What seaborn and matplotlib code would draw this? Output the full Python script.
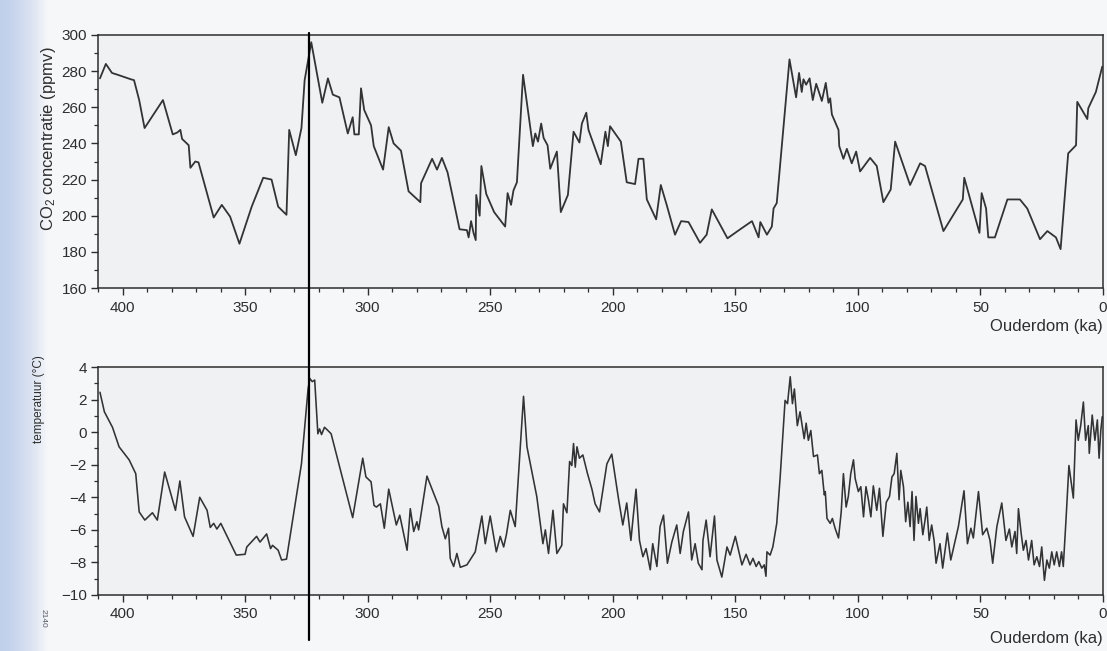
import numpy as np
import pandas as pd
import matplotlib
matplotlib.use("Agg")
import matplotlib.pyplot as plt
import matplotlib.transforms as mtransforms
from matplotlib.lines import Line2D
from matplotlib.ticker import MultipleLocator
import seaborn as sns

# --- Vostok ice core: CO2 concentration (ppmv) versus age (ka) ---
co2_age = [409.2, 406.8, 404.3, 402.0, 396.6, 395.3, 393.2, 391.0, 383.5, 379.5,
           377.7, 376.4, 375.7, 373.0, 372.3, 370.3, 369.0, 362.8, 359.5, 356.1,
           352.3, 347.3, 342.6, 339.2, 336.5, 333.1, 332.0, 329.3, 327.0, 325.7,
           323.0, 318.5, 316.2, 314.2, 311.5, 308.1, 306.1, 305.4, 303.6, 302.7,
           301.4, 298.6, 297.5, 293.7, 291.4, 289.4, 286.4, 283.3, 278.5, 278.2,
           273.7, 271.7, 269.7, 267.4, 262.5, 259.5, 258.8, 257.8, 256.8, 255.9,
           255.7, 254.3, 253.6, 251.6, 248.4, 243.9, 242.9, 241.5, 240.5, 239.1,
           236.6, 232.6, 231.6, 230.5, 229.2, 228.2, 226.6, 225.5, 222.8, 221.2,
           218.3, 216.0, 213.6, 212.6, 210.8, 209.9, 204.9, 203.0, 202.0, 201.1,
           196.7, 194.3, 190.9, 189.5, 187.5, 186.1, 182.3, 180.4, 178.0, 174.6,
           172.1, 169.1, 164.4, 161.7, 159.6, 153.2, 148.0, 143.2, 140.5, 139.8,
           137.1, 135.1, 134.4, 133.1, 127.9, 125.2, 124.0, 122.9, 122.2, 121.1,
           119.7, 118.4, 117.0, 114.7, 113.1, 112.0, 111.3, 110.6, 107.9, 107.6,
           105.9, 104.5, 102.5, 100.7, 99.1, 95.0, 92.3, 89.6, 86.6, 84.8,
           78.7, 74.6, 72.6, 65.1, 57.2, 56.6, 50.4, 49.5, 47.7, 46.8,
           44.1, 39.0, 33.9, 30.9, 25.7, 22.7, 19.2, 17.3, 14.2, 11.0,
           10.5, 6.4, 6.0, 2.9, 0.3]
co2_ppmv = [276, 284, 279, 278, 275.5, 275, 264, 248.5, 264, 245,
            246, 247.5, 242.5, 239, 226.5, 230, 229.5, 199, 206, 199.5,
            184.5, 205, 221, 220, 205, 200.5, 247.5, 233.5, 248.5, 275,
            296, 262.5, 276, 267, 265.5, 245.5, 254.5, 245, 245, 270.5,
            258.5, 250, 238.5, 225.5, 249, 240, 236, 213.5, 207.5, 218,
            231.5, 225.5, 232, 224, 192.5, 192, 188, 197, 190.5, 186.5,
            211.5, 200, 227.5, 212, 202, 194, 212.5, 206, 214, 218.5,
            278, 238.5, 245.5, 241, 251, 243, 239, 226, 235.5, 202,
            211.5, 246.5, 240.5, 251, 257, 247.5, 228.5, 246.5, 238.5, 249.5,
            241, 218.5, 217.5, 231.5, 231.5, 209, 198, 217, 206, 189.5,
            197, 196.5, 185, 189.5, 203.5, 187.5, 192.5, 197, 188, 196.5,
            189.5, 194, 204, 207, 286.5, 265.5, 279, 268.5, 275.5, 272.5,
            276, 264, 273, 263.5, 273.5, 262.5, 265, 256, 247.5, 238.5,
            231.5, 237, 229, 235.5, 224.5, 232, 227.5, 207.5, 214.5, 241,
            217, 229, 227.5, 191.5, 209, 221, 190.5, 212.5, 204, 188,
            188, 209, 209, 204, 187, 191.5, 188, 181.5, 234.5, 239,
            263, 253.5, 259.5, 268.5, 282.5]

# --- Vostok ice core: temperature anomaly (deg C) versus age (ka) ---
temp_age = [409.2, 407.4, 404.1, 401.4, 397.3, 394.6, 393.2, 390.9, 387.8, 385.8,
            382.8, 378.4, 376.6, 374.7, 371.2, 368.5, 365.5, 364.2, 362.8, 361.5,
            359.9, 353.6, 350.0, 349.3, 345.3, 343.9, 341.2, 339.6, 338.8, 336.5,
            335.1, 333.1, 327.0, 324.3, 323.6, 322.6, 321.6, 320.3, 319.6, 318.8,
            317.6, 316.2, 314.9, 306.1, 302.0, 300.7, 298.6, 297.4, 296.4, 294.8,
            293.2, 291.4, 288.3, 286.9, 283.9, 282.6, 281.2, 279.9, 279.2, 275.8,
            271.0, 269.7, 268.3, 267.0, 266.3, 264.9, 263.6, 262.2, 259.5, 256.1,
            253.4, 252.0, 250.0, 247.5, 245.9, 244.5, 243.4, 241.8, 239.8, 236.4,
            235.0, 231.0, 228.5, 227.5, 226.2, 224.4, 222.8, 220.8, 220.1, 218.7,
            217.6, 216.7, 216.0, 215.3, 214.6, 213.6, 212.2, 210.3, 208.5, 207.2,
            205.4, 202.4, 200.4, 197.7, 195.9, 194.3, 192.6, 191.6, 190.5, 189.1,
            187.7, 186.4, 184.7, 183.7, 182.0, 180.7, 179.3, 177.7, 175.9, 173.9,
            172.5, 171.2, 169.1, 167.8, 166.4, 165.1, 163.6, 163.2, 161.9, 160.3,
            158.5, 157.5, 155.5, 153.4, 152.1, 150.0, 148.7, 147.3, 145.6, 144.0,
            142.8, 141.5, 140.4, 139.2, 138.2, 137.5, 137.1, 135.8, 134.7, 133.1,
            131.7, 129.7, 128.7, 127.6, 126.7, 125.9, 124.7, 123.6, 121.9, 121.1,
            120.2, 119.2, 118.1, 116.5, 115.7, 114.7, 113.7, 113.3, 112.6, 111.3,
            110.4, 109.3, 107.9, 106.8, 105.9, 104.8, 103.9, 102.9, 101.8, 101.1,
            99.8, 98.8, 97.7, 96.7, 95.7, 94.7, 93.7, 92.3, 91.2, 89.8,
            88.4, 87.1, 86.1, 85.2, 84.1, 83.2, 82.5, 81.4, 80.5, 79.6,
            78.7, 77.9, 77.1, 76.3, 75.3, 74.6, 73.5, 72.6, 71.9, 70.9,
            69.9, 68.9, 68.1, 66.5, 65.4, 63.5, 62.1, 59.0, 56.7, 55.3,
            53.9, 52.9, 50.8, 49.1, 47.4, 46.1, 45.0, 43.3, 41.3, 39.6,
            38.2, 37.2, 35.9, 35.2, 34.5, 33.4, 32.5, 31.4, 30.4, 29.1,
            28.1, 27.0, 25.9, 25.0, 23.9, 22.9, 21.9, 20.9, 19.9, 18.9,
            17.8, 16.9, 16.2, 15.1, 13.9, 12.1, 11.0, 10.1, 9.1, 8.0,
            7.1, 6.0, 5.6, 4.4, 3.3, 2.3, 1.6, 0.9, 0.3]
temp_c = [2.45, 1.25, 0.3, -0.9, -1.7, -2.55, -4.9, -5.4, -4.95, -5.4,
          -2.45, -4.8, -3.0, -5.2, -6.4, -4.0, -4.8, -5.85, -5.6, -5.95,
          -5.6, -7.55, -7.5, -7.05, -6.4, -6.75, -6.25, -7.15, -6.95, -7.25,
          -7.85, -7.8, -1.95, 2.65, 3.3, 3.1, 3.2, -0.1, 0.2, -0.15,
          0.3, 0.1, -0.1, -5.25, -1.6, -2.75, -3.05, -4.5, -4.6, -4.4,
          -5.9, -3.5, -5.7, -5.1, -7.25, -4.7, -6.1, -5.5, -6.0, -2.7,
          -4.55, -5.8, -6.55, -5.9, -7.75, -8.25, -7.45, -8.3, -8.15, -7.35,
          -5.15, -6.85, -5.15, -7.35, -6.4, -7.05, -6.3, -4.8, -5.8, 2.2,
          -0.9, -3.95, -6.85, -6.0, -7.45, -4.8, -7.45, -6.95, -4.4, -4.95,
          -1.8, -2.05, -0.7, -2.15, -0.9, -1.6, -1.4, -2.55, -3.5, -4.4,
          -4.9, -1.95, -1.35, -4.05, -5.7, -4.35, -6.65, -5.1, -3.5, -6.65,
          -7.65, -7.15, -8.45, -6.85, -8.25, -5.8, -5.1, -8.05, -6.75, -5.7,
          -7.45, -6.1, -4.9, -7.85, -6.85, -8.05, -8.45, -6.65, -5.4, -7.65,
          -5.15, -7.85, -8.9, -7.05, -7.55, -6.4, -7.25, -8.15, -7.5, -8.15,
          -7.75, -8.25, -7.95, -8.35, -8.15, -8.85, -7.35, -7.55, -7.05, -5.6,
          -2.75, 1.95, 1.75, 3.4, 1.75, 2.65, 0.4, 1.25, -0.4, 0.55,
          -0.5, 0.1, -1.5, -1.4, -2.55, -2.35, -3.85, -3.65, -5.3, -5.6,
          -5.3, -5.9, -6.5, -4.9, -2.55, -4.6, -3.95, -2.55, -1.7, -2.85,
          -3.65, -3.35, -5.2, -3.35, -4.15, -5.2, -3.3, -4.8, -3.45, -6.4,
          -4.3, -3.95, -2.75, -2.55, -1.3, -4.15, -2.35, -3.35, -5.5, -4.3,
          -5.8, -3.65, -6.65, -3.95, -5.6, -4.7, -6.3, -5.4, -4.6, -6.65,
          -5.7, -6.65, -8.05, -6.85, -8.35, -6.2, -7.85, -5.8, -3.6, -6.85,
          -5.9, -6.5, -3.65, -6.3, -5.9, -6.65, -8.05, -5.8, -4.35, -6.65,
          -5.95, -7.05, -6.1, -7.45, -4.7, -6.2, -7.25, -6.65, -7.85, -6.65,
          -8.15, -7.65, -8.25, -7.05, -9.1, -7.85, -8.35, -7.35, -8.15, -7.35,
          -8.25, -7.35, -8.25, -5.4, -2.05, -4.05, 0.75, -0.5, 0.4, 1.85,
          -0.5, 0.4, -1.3, 1.05, -0.5, 0.75, -1.6, 0.1, 0.95]

x_ticks = [400, 350, 300, 250, 200, 150, 100, 50, 0]
co2_ticks = [160, 180, 200, 220, 240, 260, 280, 300]
temp_ticks = [-10, -8, -6, -4, -2, 0, 2, 4]
marker_age = 324.0   # age of the vertical reference line (ka)

co2_df = pd.DataFrame({"ouderdom": co2_age, "co2": co2_ppmv})
temp_df = pd.DataFrame({"ouderdom": temp_age, "temp": temp_c})

sns.set_style("ticks")
plt.rcParams["font.family"] = ["Liberation Sans", "DejaVu Sans"]
plt.rcParams["mathtext.fontset"] = "custom"
plt.rcParams["mathtext.rm"] = "Liberation Sans"
plt.rcParams["mathtext.it"] = "Liberation Sans:italic"

W, H = 1107, 651
ink = "#2e2e2e"
paper = "#f6f7f9"
panel = "#eff1f3"

fig = plt.figure(figsize=(W / 100, H / 100), dpi=100, facecolor=paper)

# soft blue shading along the page binding on the left
strip = fig.add_axes([0, 0, 48 / W, 1])
grad = np.linspace(0, 1, 200)
alpha = np.clip(1.0 - grad ** 1.6, 0, 1)
rgba = np.zeros((1, 200, 4))
rgba[..., 0] = 0.72
rgba[..., 1] = 0.79
rgba[..., 2] = 0.91
rgba[..., 3] = alpha * 0.85
strip.imshow(rgba, aspect="auto", extent=[0, 1, 0, 1])
strip.set_axis_off()

ax1 = fig.add_axes([98 / W, 1 - 288 / H, 1005 / W, 253 / H])
ax2 = fig.add_axes([98 / W, 1 - 595 / H, 1005 / W, 228 / H])

sns.lineplot(data=co2_df, x="ouderdom", y="co2", ax=ax1, color="#333333",
             linewidth=1.3, estimator=None, sort=False)
sns.lineplot(data=temp_df, x="ouderdom", y="temp", ax=ax2, color="#333333",
             linewidth=1.15, estimator=None, sort=False)

for ax, yt, ylim, yminor in ((ax1, co2_ticks, (160, 300), 10),
                             (ax2, temp_ticks, (-10, 4), 1)):
    ax.set_facecolor(panel)
    ax.set_xlim(410, 0)
    ax.set_ylim(*ylim)
    ax.set_xticks(x_ticks)
    ax.set_yticks(yt)
    ax.xaxis.set_minor_locator(MultipleLocator(10))
    ax.yaxis.set_minor_locator(MultipleLocator(yminor))
    ax.tick_params(axis="both", which="major", direction="out", length=5,
                   width=1.0, color=ink, labelcolor=ink, labelsize=11)
    ax.tick_params(axis="x", which="major", pad=4)
    ax.tick_params(axis="y", which="major", pad=3)
    ax.tick_params(axis="both", which="minor", direction="out", length=3,
                   width=0.9, color=ink)
    for side in ("left", "right", "top", "bottom"):
        ax.spines[side].set_visible(True)
        ax.spines[side].set_color(ink)
        ax.spines[side].set_linewidth(1.1)
    ax.set_xlabel("")

ax1.set_ylabel("CO$_2$ concentratie (ppmv)", fontsize=12, color=ink)
ax1.yaxis.set_label_coords(-0.040, 0.59)
ax2.set_ylabel("temperatuur (°C)", fontsize=8.5, color=ink,
               family=["Liberation Sans Narrow", "Liberation Sans"])
ax2.yaxis.set_label_coords(-0.053, 0.86)

fig.text(1103 / W, 1 - 326 / H, "Ouderdom (ka)", ha="right", va="center",
         fontsize=12, color=ink)
fig.text(1103 / W, 1 - 638 / H, "Ouderdom (ka)", ha="right", va="center",
         fontsize=12, color=ink)

# vertical reference line spanning both panels
trans = mtransforms.blended_transform_factory(ax1.transData, fig.transFigure)
fig.add_artist(Line2D([marker_age, marker_age], [1 - 640 / H, 1 - 33 / H],
                      transform=trans, color="black", linewidth=1.6))

fig.text(43 / W, 1 - 618 / H, "2140", rotation=270, ha="center", va="center",
         fontsize=6, color="#555a66")

fig.savefig("out.png", dpi=100, facecolor=paper)
